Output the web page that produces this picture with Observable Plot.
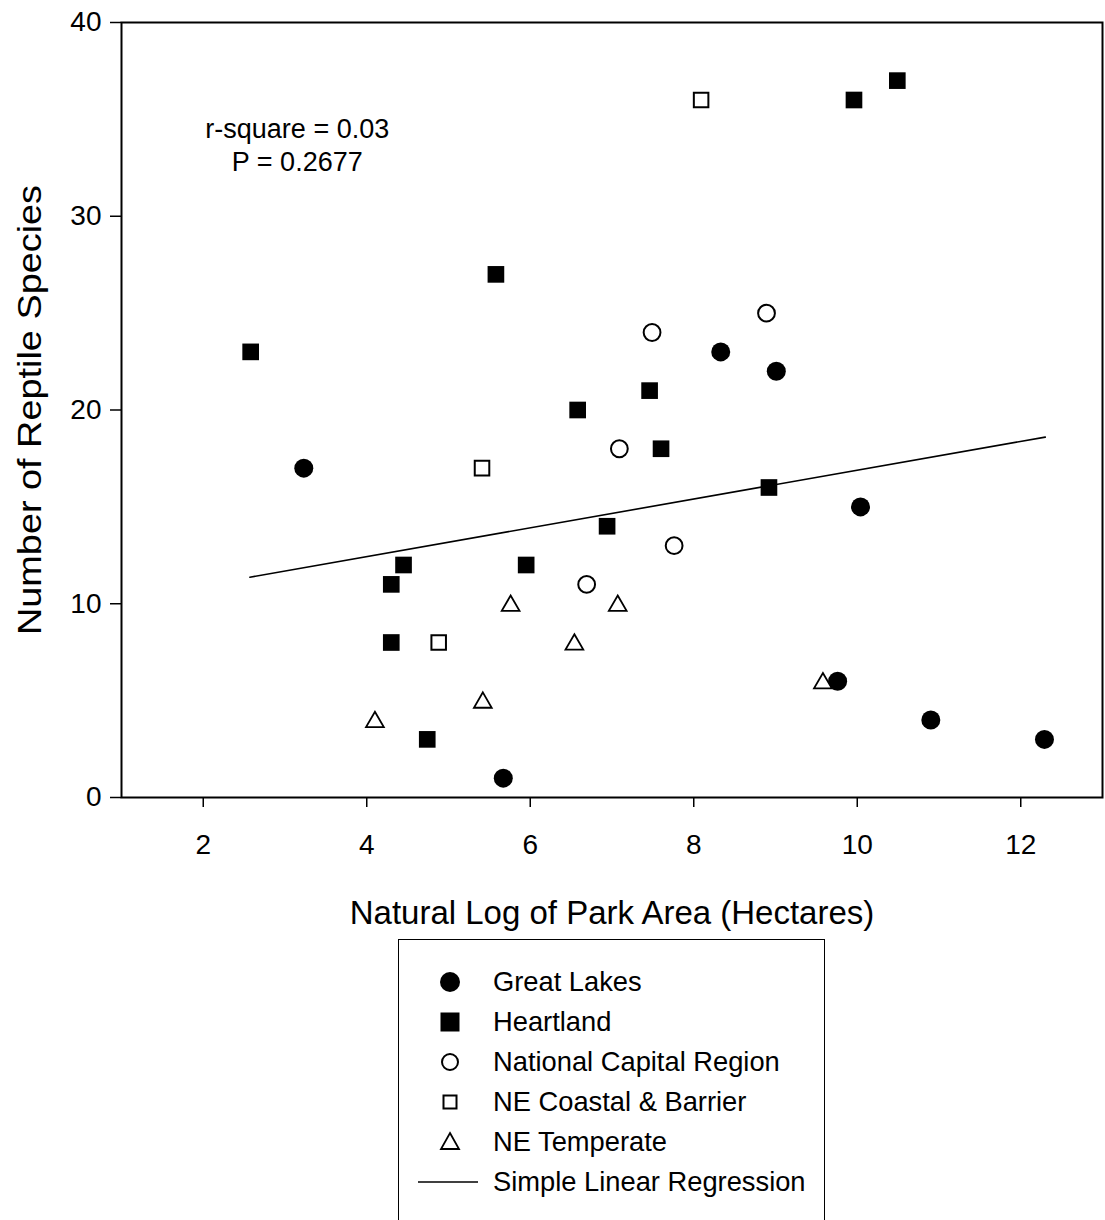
<!DOCTYPE html>
<html>
<head>
<meta charset="utf-8">
<script src="https://cdn.jsdelivr.net/npm/d3@7"></script>
<script src="https://cdn.jsdelivr.net/npm/@observablehq/plot@0.6"></script>
<style>
  html, body { margin: 0; padding: 0; background: white; }
  body { width: 1105px; height: 1220px; position: relative; overflow: hidden; font-family: "Liberation Sans", Arial, sans-serif; }
  #legend { position: absolute; left: 398px; top: 939px; width: 427px; height: 400px; border: 1.5px solid black; border-bottom: none; box-sizing: border-box; }
  .row { position: absolute; left: 0; height: 40px; line-height: 40px; font-size: 27.3px; color: black; white-space: nowrap; }
  .row svg { position: absolute; top: 5px; }
  .row span { position: absolute; left: 94px; }
</style>
</head>
<body>
<div id="chart"></div>
<div id="legend"></div>
<script>
// ---- data ----
const xTicks = [2, 4, 6, 8, 10, 12];
const yTicks = [0, 10, 20, 30, 40];

const greatLakes = [[3.23,17],[5.67,1],[8.33,23],[9.01,22],[10.04,15],[9.76,6],[10.90,4],[12.29,3]];
const heartland = [[2.58,23],[5.58,27],[4.30,11],[4.45,12],[4.30,8],[4.74,3],[5.95,12],[6.58,20],[7.46,21],[7.60,18],[6.94,14],[8.92,16],[9.96,36],[10.49,37]];
const nationalCapital = [[7.49,24],[8.89,25],[7.09,18],[7.76,13],[6.69,11]];
const neCoastal = [[8.09,36],[5.41,17],[4.88,8]];
const neTemperate = [[4.10,4],[5.42,5],[5.76,10],[6.54,8],[7.07,10],[9.58,6]];
const regression = [[2.57,11.37],[12.30,18.60]];

const annotationLines = ["r-square = 0.03", "P = 0.2677"];
const xTitle = "Natural Log of Park Area (Hectares)";
const yTitle = "Number of Reptile Species";
const legendLabels = ["Great Lakes", "Heartland", "National Capital Region", "NE Coastal & Barrier", "NE Temperate", "Simple Linear Regression"];

const X = d => d[0], Y = d => d[1];

const chart = Plot.plot({
  width: 1105,
  height: 940,
  marginLeft: 121,
  marginRight: 3,
  marginTop: 22,
  marginBottom: 143,
  style: { fontFamily: "Liberation Sans, Arial, sans-serif", color: "black", background: "white" },
  x: { domain: [1, 13] },
  y: { domain: [0, 40] },
  marks: [
    Plot.axisX(xTicks, { anchor: "bottom", tickSize: 10, tickPadding: 27, fontSize: 28, strokeWidth: 1.5, label: null }),
    Plot.axisY(yTicks, { anchor: "left", tickSize: 11, tickPadding: 9, fontSize: 28, strokeWidth: 1.5, label: null }),
    Plot.frame({ stroke: "black", strokeWidth: 2 }),
    Plot.text([xTitle], { text: d => d, frameAnchor: "bottom", dy: 116, fontSize: 33, lineAnchor: "middle", textAnchor: "middle" }),
    Plot.text([yTitle], { text: d => d, frameAnchor: "left", dx: -91, rotate: -90, fontSize: 33, lineAnchor: "middle", textAnchor: "middle", className: "ytitle" }),
    Plot.text([annotationLines.join("\n")], { text: d => d, x: 3.15, y: 35.22, fontSize: 27, lineHeight: 1.2, lineAnchor: "top", textAnchor: "middle" }),
    Plot.line(regression, { x: X, y: Y, stroke: "black", strokeWidth: 1.6 }),
    Plot.dot(greatLakes, { x: X, y: Y, r: 9.5, symbol: "circle", fill: "black", stroke: "none" }),
    Plot.dot(heartland, { x: X, y: Y, r: 9.4, symbol: "square", fill: "black", stroke: "none" }),
    Plot.dot(nationalCapital, { x: X, y: Y, r: 8.4, symbol: "circle", fill: "white", stroke: "black", strokeWidth: 2 }),
    Plot.dot(neCoastal, { x: X, y: Y, r: 8.2, symbol: "square", fill: "white", stroke: "black", strokeWidth: 2 }),
    Plot.dot(neTemperate, { x: X, y: Y, r: 6.6, symbol: "triangle", fill: "white", stroke: "black", strokeWidth: 1.8, dy: 2 })
  ]
});
// stretch the rotated title along its length, like the reference's tall glyphs
chart.querySelectorAll(".ytitle text").forEach(t => {
  t.setAttribute("textLength", 450);
  t.setAttribute("lengthAdjust", "spacingAndGlyphs");
});
document.getElementById("chart").appendChild(chart);

// ---- legend (HTML, below the SVG) ----
const legend = document.getElementById("legend");
const symbols = [
  '<circle cx="15" cy="15" r="10" fill="black"/>',
  '<rect x="5.5" y="5.5" width="19" height="19" fill="black"/>',
  '<circle cx="15" cy="15" r="8" fill="white" stroke="black" stroke-width="2"/>',
  '<rect x="8.5" y="8.5" width="13" height="13" fill="white" stroke="black" stroke-width="2"/>',
  '<path d="M15,6 L24,22 L6,22 Z" fill="white" stroke="black" stroke-width="1.8"/>',
  ''
];
legendLabels.forEach((label, i) => {
  const row = document.createElement("div");
  row.className = "row";
  row.style.top = (43 - 20 + 40 * i - 1) + "px";
  row.style.width = "427px";
  if (i < 5) {
    row.innerHTML = `<svg width="30" height="30" style="left:36px">${symbols[i]}</svg>`;
  } else {
    row.innerHTML = `<svg width="64" height="30" style="left:18px"><line x1="1" y1="15" x2="61" y2="15" stroke="black" stroke-width="1.6"/></svg>`;
  }
  const span = document.createElement("span");
  span.textContent = label;
  row.appendChild(span);
  legend.appendChild(row);
});
</script>
</body>
</html>
